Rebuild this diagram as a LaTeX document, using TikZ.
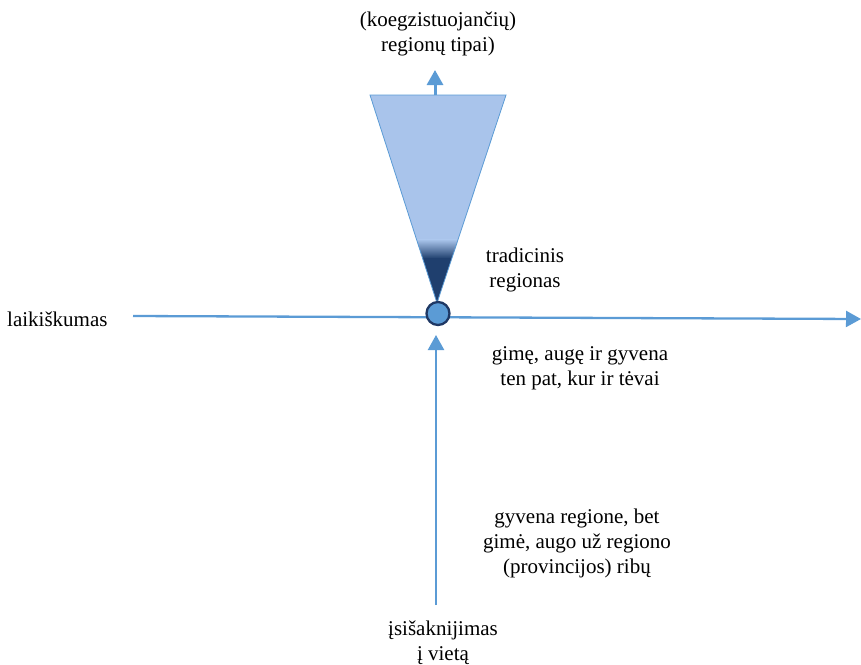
\documentclass[tikz,border=0pt]{standalone}
\usepackage{fontspec}
\setmainfont{Liberation Serif}
\usetikzlibrary{arrows.meta}
\definecolor{axisblue}{HTML}{5B9BD5}
\definecolor{conelight}{HTML}{A9C4EB}
\definecolor{conedark}{HTML}{1F3F6E}
\definecolor{rimdark}{HTML}{1F3864}
\tikzset{
  axis/.style={draw=axisblue, line width=2.3pt, -{Triangle[length=15pt,width=16pt]}},
  label/.style={font=\fontsize{21}{25}\selectfont, align=center, inner sep=0pt},
}
\begin{document}
\begin{tikzpicture}[x=1pt,y=-1pt]
\useasboundingbox (0,0) rectangle (861,664);

% cone of region types
\coordinate (apex) at (437,303);
\coordinate (tl) at (370,95);
\coordinate (tr) at (506,95);
\coordinate (tm) at (435,95);
\begin{scope}
  \clip (tl) -- (tr) -- (apex) -- cycle;
  \fill[conelight] (360,90) rectangle (515,240);
  \shade[top color=conelight, bottom color=conedark] (360,239.5) rectangle (515,258.5);
  \fill[conedark] (360,258) rectangle (515,310);
\end{scope}
\draw[axisblue, line width=0.8pt] (tl) -- (tr) -- (apex) -- cycle;

% axes
\coordinate (left) at (133,316);
\coordinate (right) at (861,319);
\coordinate (bottom) at (436,605);
\coordinate (belowdot) at (436,335);
\coordinate (top) at (435,70);
\draw[axis] (left) -- (right);
\draw[axis] (bottom) -- (belowdot);
\draw[axis, line width=3pt] (tm) -- (top);

% traditional region point
\node[circle, fill=axisblue, draw=rimdark, line width=2.3pt, minimum size=23pt, inner sep=0pt] (dot) at (438,313.5) {};

% texts
\node[label] (types) at (438,34) {(koegzistuojančių)\\regionų tipai)};
\node[label] (trad) at (525,270) {tradicinis\\regionas};
\node[label, anchor=west] (secular) at (7,319) {laikiškumas};
\node[label] (born) at (580,368) {gimę, augę ir gyvena\\ten pat, kur ir tėvai};
\node[label] (lives) at (577,543) {gyvena regione, bet\\gimė, augo už regiono\\(provincijos) ribų};
\node[label] (rooted) at (443,643) {įsišaknijimas\\į vietą};
\end{tikzpicture}
\end{document}
